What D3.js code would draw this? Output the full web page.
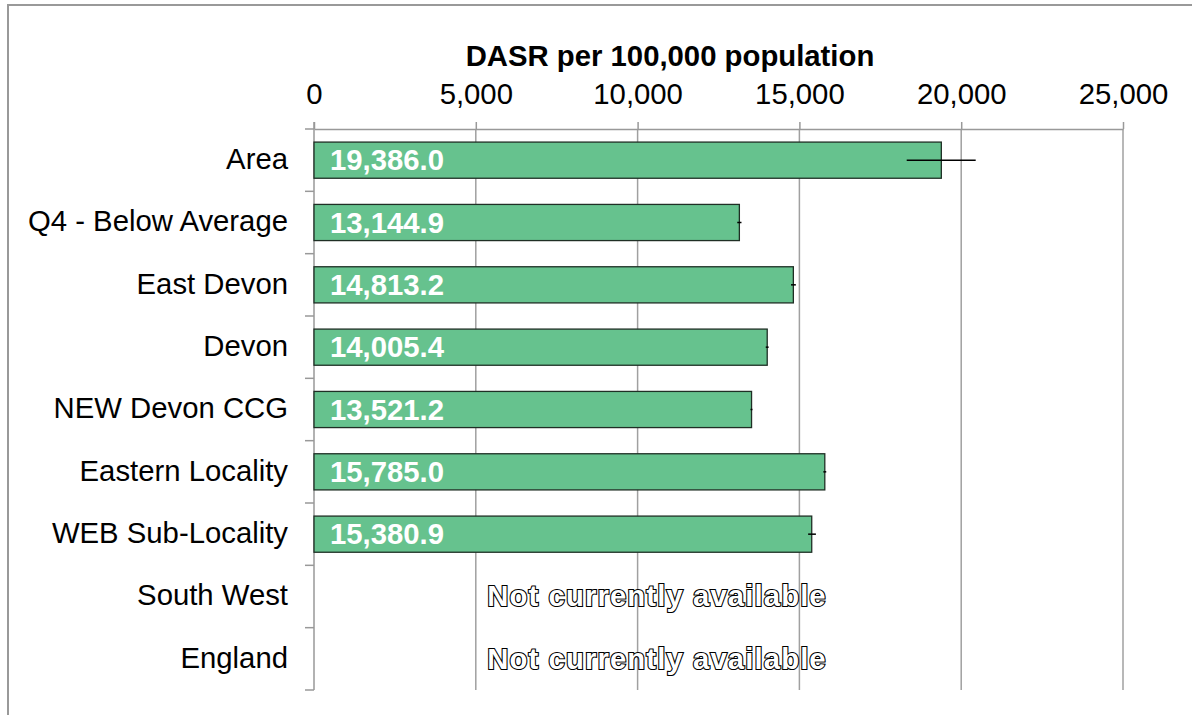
<!DOCTYPE html>
<html><head><meta charset="utf-8">
<script src="https://cdn.jsdelivr.net/npm/d3@7"></script>
<style>body{margin:0;background:#fff}svg{display:block}text{font-family:"Liberation Sans",Arial,sans-serif}</style>
</head><body>
<svg id="c" width="1192" height="715"></svg>
<script>
const categories = ["Area","Q4 - Below Average","East Devon","Devon","NEW Devon CCG","Eastern Locality","WEB Sub-Locality","South West","England"];
const values = [19386.0, 13144.9, 14813.2, 14005.4, 13521.2, 15785.0, 15380.9, null, null];
const lowerCI = [18316, 13080, 14740, 13960, 13490, 15740, 15270, null, null];
const upperCI = [20448, 13210, 14890, 14050, 13550, 15830, 15510, null, null];
const xTicks = [0,5000,10000,15000,20000,25000];
const axisTitle = "DASR per 100,000 population";
const naText = "Not currently available";

const FS = 29.3;
const svg = d3.select("#c");
// frame
svg.append("path").attr("d","M8,715 L8,5 L1192,5").attr("fill","none").attr("stroke","#999").attr("stroke-width",2);

const pLeft = 314, pRight = 1123, pTop = 129, pBottom = 690;
const x = d3.scaleLinear().domain([0,25000]).range([pLeft,pRight]);
const y = d3.scaleBand().domain(categories).range([pTop,pBottom]).paddingInner(0.42).paddingOuter(0.21);
const yb = d3.scaleBand().domain(categories).range([pTop,pBottom]);

// gridlines
svg.append("g").selectAll("line").data(xTicks.slice(1)).join("line")
  .attr("x1",d=>x(d)).attr("x2",d=>x(d)).attr("y1",pTop).attr("y2",pBottom)
  .attr("stroke","#a0a0a0").attr("stroke-width",1.5);

// top axis
const xa = svg.append("g").attr("transform",`translate(0,${pTop})`)
  .call(d3.axisTop(x).tickValues(xTicks).tickFormat(d3.format(",")).tickSizeInner(7).tickSizeOuter(0).tickPadding(18));
xa.select(".domain").attr("stroke","#999").attr("stroke-width",1.5);
xa.selectAll(".tick line").attr("stroke","#999").attr("stroke-width",1.5);
xa.selectAll("text").attr("font-size",FS).attr("fill","#000").style("font-family","Liberation Sans, Arial, sans-serif");

// left axis
svg.append("line").attr("x1",pLeft).attr("x2",pLeft).attr("y1",pTop-7).attr("y2",pBottom).attr("stroke","#999").attr("stroke-width",1.5);
const bounds = categories.map(c=>yb(c)).concat([pBottom]);
svg.append("g").selectAll("line").data(bounds).join("line")
  .attr("x1",pLeft-9).attr("x2",pLeft).attr("y1",d=>d).attr("y2",d=>d)
  .attr("stroke","#999").attr("stroke-width",1.5);
svg.append("g").selectAll("text").data(categories).join("text")
  .attr("x",288).attr("y",d=>yb(d)+yb.bandwidth()/2).attr("dy","0.3em")
  .attr("text-anchor","end").attr("font-size",FS).attr("fill","#000").text(d=>d);

// title
svg.append("text").attr("x",670).attr("y",66).attr("text-anchor","middle")
  .attr("font-size",FS).attr("font-weight","bold").attr("fill","#000").text(axisTitle);

const data = categories.map((c,i)=>({c,v:values[i],lo:lowerCI[i],hi:upperCI[i]}));
const have = data.filter(d=>d.v!=null);
// bars
svg.append("g").selectAll("rect").data(have).join("rect")
  .attr("x",x(0)).attr("y",d=>y(d.c)).attr("width",d=>x(d.v)-x(0)).attr("height",y.bandwidth())
  .attr("fill","#66C28E").attr("stroke","#1f2f25").attr("stroke-width",1.3);
// error bars
svg.append("g").selectAll("line").data(have).join("line")
  .attr("x1",d=>x(d.lo)).attr("x2",d=>x(d.hi)).attr("y1",d=>y(d.c)+y.bandwidth()/2).attr("y2",d=>y(d.c)+y.bandwidth()/2)
  .attr("stroke","#000").attr("stroke-width",1.5);
// labels
svg.append("g").selectAll("text").data(have).join("text")
  .attr("x",x(0)+16).attr("y",d=>y(d.c)+y.bandwidth()/2).attr("dy","0.35em")
  .attr("font-size",FS).attr("font-weight","bold").attr("fill","#fff").text(d=>d3.format(",.1f")(d.v));
// not available
svg.append("g").selectAll("text").data(data.filter(d=>d.v==null)).join("text")
  .attr("x",657).attr("y",d=>yb(d.c)+yb.bandwidth()/2).attr("dy","0.33em").attr("text-anchor","middle")
  .attr("font-size",FS).attr("font-weight","bold").attr("letter-spacing",1.1)
  .attr("fill","#fff").attr("stroke","#000").attr("stroke-width",2.2).attr("paint-order","stroke")
  .text(naText);
</script>
</body></html>
